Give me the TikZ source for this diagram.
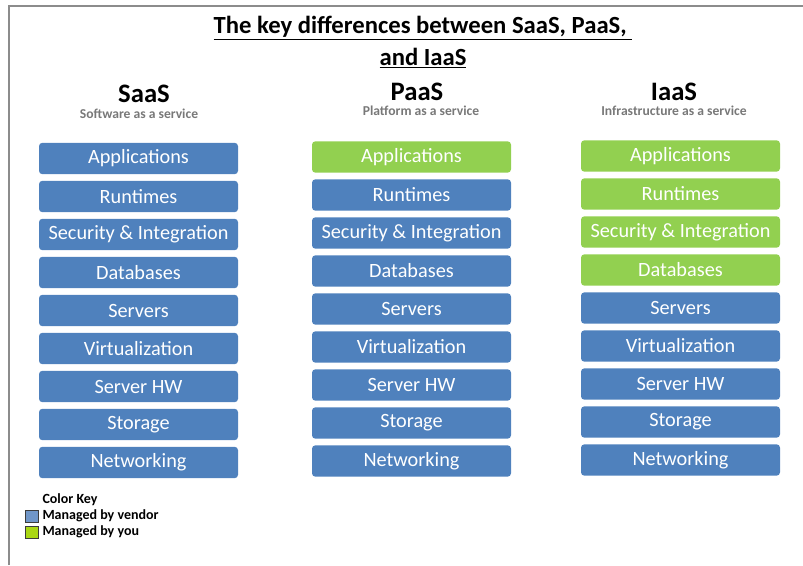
\documentclass[tikz,border=0pt]{standalone}
\usepackage{fontspec}
\setmainfont{Carlito}
\definecolor{vendorblue}{RGB}{79,129,189}
\definecolor{yougreen}{RGB}{146,208,80}
\definecolor{keyblue}{RGB}{112,150,200}
\definecolor{keygreen}{RGB}{170,215,20}
\definecolor{framegray}{RGB}{140,140,140}
\definecolor{subgray}{RGB}{120,120,120}

\tikzset{every picture/.style={line width=0.75pt}}
\tikzset{
  layer/.style={rectangle, rounded corners=2.5pt, minimum width=149.25pt, minimum height=23.5pt, inner sep=0pt, text=white, font=\fontsize{15.2}{17}\selectfont},
  vendor/.style={layer, fill=vendorblue},
  you/.style={layer, fill=yougreen},
  colhead/.style={font=\fontsize{20}{22}\bfseries\selectfont, inner sep=0pt, text depth=0pt},
  colsub/.style={font=\fontsize{10.2}{12}\bfseries\selectfont, text=subgray, inner sep=0pt},
  keytext/.style={anchor=west, font=\fontsize{10.5}{12}\bfseries\selectfont, inner sep=0.75pt},
  swatch/.style={draw={rgb, 255:red, 60; green, 60; blue, 60}, line width=0.6pt, minimum width=10pt, minimum height=9pt, inner sep=0pt}
}

\begin{document}
\begin{tikzpicture}[x=0.75pt,y=0.75pt,yscale=-1,xscale=1]
\useasboundingbox (0,0) rectangle (803,565);

%Frame
\draw [color=framegray, line width=1.5pt] (8.5,565) -- (8.5,5.5) -- (803,5.5) ;

% Title
\node (title) [align=center, font=\fontsize{18.5}{24}\bfseries\selectfont] at (423,42) {\underline{The key differences between SaaS, PaaS,~}\\\underline{and IaaS}};

% Column heads
\node (saas) [colhead] at (144,94) {SaaS};
\node (saassub) [colsub] at (139,114) {Software as a service};
\node (paas) [colhead] at (417,92) {PaaS};
\node (paassub) [colsub] at (421,111) {Platform as a service};
\node (iaas) [colhead] at (674,92) {IaaS};
\node (iaassub) [colsub] at (674,111) {Infrastructure as a service};

% SaaS stack
\node (s1) [vendor] at (138.5,158.5) {Applications};
\node (s2) [vendor] at (138.5,196.5) {Runtimes};
\node (s3) [vendor] at (138.5,234.5) {Security \& Integration};
\node (s4) [vendor] at (138.5,272.5) {Databases};
\node (s5) [vendor] at (138.5,310.5) {Servers};
\node (s6) [vendor] at (138.5,348.5) {Virtualization};
\node (s7) [vendor] at (138.5,386.5) {Server HW};
\node (s8) [vendor] at (138.5,424.5) {Storage};
\node (s9) [vendor] at (138.5,462.5) {Networking};

% PaaS stack
\node (p1) [you] at (411.5,157) {Applications};
\node (p2) [vendor] at (411.5,195) {Runtimes};
\node (p3) [vendor] at (411.5,233) {Security \& Integration};
\node (p4) [vendor] at (411.5,271) {Databases};
\node (p5) [vendor] at (411.5,309) {Servers};
\node (p6) [vendor] at (411.5,347) {Virtualization};
\node (p7) [vendor] at (411.5,385) {Server HW};
\node (p8) [vendor] at (411.5,423) {Storage};
\node (p9) [vendor] at (411.5,461) {Networking};

% IaaS stack
\node (i1) [you] at (680.5,156) {Applications};
\node (i2) [you] at (680.5,194) {Runtimes};
\node (i3) [you] at (680.5,232) {Security \& Integration};
\node (i4) [you] at (680.5,270) {Databases};
\node (i5) [vendor] at (680.5,308) {Servers};
\node (i6) [vendor] at (680.5,346) {Virtualization};
\node (i7) [vendor] at (680.5,384) {Server HW};
\node (i8) [vendor] at (680.5,422) {Storage};
\node (i9) [vendor] at (680.5,460) {Networking};

% Color key
\node (keyhead) [keytext] at (41,500) {Color Key};
\node (keyv) [swatch, fill=keyblue] at (32,516) {};
\node (keyvtext) [keytext] at (41,516) {Managed by vendor};
\node (keyy) [swatch, fill=keygreen] at (32,532) {};
\node (keyytext) [keytext] at (41,532) {Managed by you};

\end{tikzpicture}
\end{document}
